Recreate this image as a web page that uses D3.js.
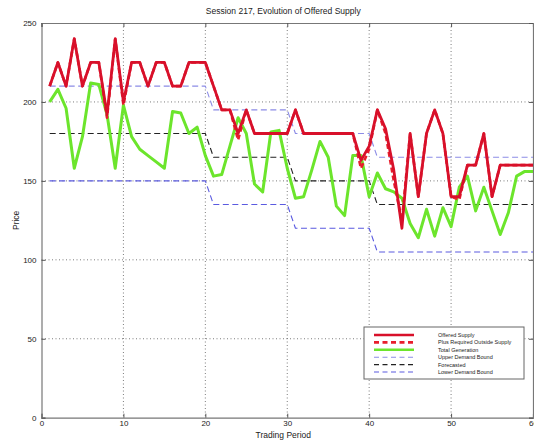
<!DOCTYPE html>
<html>
<head>
<meta charset="utf-8">
<script src="https://cdn.jsdelivr.net/npm/d3@7"></script>
<style>
  body { margin: 0; background: #fff; }
  text { font-family: "Liberation Sans", Arial, sans-serif; fill: #222; }
</style>
</head>
<body>
<svg id="chart" width="534" height="440"></svg>
<script>
// trading periods 1..60
const periods = d3.range(1, 61);

const offeredSupply = [210,225,210,240,210,225,225,192,240,200,
  225,225,210,225,225,210,210,225,225,225,
  210,195,195,180,195,180,180,180,180,180,
  195,180,180,180,180,180,180,180,163,172,
  195,183,157,120,180,140,180,195,180,140,
  140,160,160,180,140,160,160,160,160,160];

const plusOutside = [210,225,210,240,210,225,225,190,240,198,
  225,225,210,225,225,210,210,225,225,225,
  210,195,195,176,195,180,180,180,180,180,
  195,180,180,180,180,180,180,180,158,170,
  195,180,150,125,180,140,180,195,180,140,
  138,160,160,180,140,160,160,160,160,160];

const totalGeneration = [200,208,196,158,178,212,211,192,158,198,
  178,170,166,162,158,194,193,180,184,166,
  153,154,172,190,180,148,143,181,182,158,
  139,140,157,175,165,134,128,166,166,140,
  155,145,143,139,123,114,132,115,133,121,
  146,153,131,146,131,116,130,153,156,156];

// step bounds: vertex periods and levels
const stepPeriods = [1, 20, 21, 30, 31, 40, 41, 60];
const upperBound = [210, 210, 195, 195, 180, 180, 165, 165];
const forecasted = [180, 180, 165, 165, 150, 150, 135, 135];
const lowerBound = [150, 150, 135, 135, 120, 120, 105, 105];

const xTicks = [0, 10, 20, 30, 40, 50, 60];
const yTicks = [0, 50, 100, 150, 200, 250];

const svg = d3.select("#chart");
const pL = 41.5, pR = 533, pT = 23, pB = 417.7;

const x = d3.scaleLinear().domain([0, 60]).range([pL, pR]);
const y = d3.scaleLinear().domain([0, 250]).range([pB, pT]);

// grid
const grid = svg.append("g");
grid.selectAll("line.gx").data(xTicks.slice(1, -1)).enter().append("line")
  .attr("x1", d => x(d)).attr("x2", d => x(d))
  .attr("y1", pT).attr("y2", pB)
  .attr("stroke", "#444").attr("stroke-width", 0.7).attr("stroke-dasharray", "1,2.5");
grid.selectAll("line.gy").data(yTicks.slice(1, -1)).enter().append("line")
  .attr("x1", pL).attr("x2", pR)
  .attr("y1", d => y(d)).attr("y2", d => y(d))
  .attr("stroke", "#444").attr("stroke-width", 0.7).attr("stroke-dasharray", "1,2.5");

// axes
const xAxis = d3.axisBottom(x).tickValues(xTicks).tickSize(-4).tickPadding(3);
const yAxis = d3.axisLeft(y).tickValues(yTicks).tickSize(-4).tickPadding(5);
svg.append("g").attr("transform", `translate(0,${pB})`).call(xAxis);
svg.append("g").attr("transform", `translate(${pL},0)`).call(yAxis);
svg.append("g").attr("transform", `translate(0,${pT})`)
  .call(d3.axisTop(x).tickValues(xTicks).tickSize(-4).tickFormat(""));
svg.append("g").attr("transform", `translate(${pR},0)`)
  .call(d3.axisRight(y).tickValues(yTicks).tickSize(-4).tickFormat(""));
svg.selectAll(".domain").attr("stroke", "#777").attr("stroke-width", 1.2);
svg.selectAll(".tick line").attr("stroke", "#555");
svg.selectAll(".tick text").attr("font-size", 8).attr("fill", "#333")
  .attr("font-family", "Liberation Sans, Arial, sans-serif");

// series
const lineXY = d3.line().x(d => x(d[0])).y(d => y(d[1]));
function drawSeries(px, vals, color, width, dash) {
  svg.append("path")
    .datum(px.map((p, i) => [p, vals[i]]))
    .attr("fill", "none").attr("stroke", color)
    .attr("stroke-width", width)
    .attr("stroke-dasharray", dash || null)
    .attr("stroke-linejoin", "round")
    .attr("d", lineXY);
}

drawSeries(stepPeriods, upperBound, "#8c8ce6", 1.1, "6,3.5");
drawSeries(stepPeriods, forecasted, "#222", 1.1, "6,3.5");
drawSeries(stepPeriods, lowerBound, "#5a5ae0", 1.1, "6,3.5");
drawSeries(periods, totalGeneration, "#6ce52c", 3);
drawSeries(periods, plusOutside, "#e81e2c", 2.6, "5,3");
drawSeries(periods, offeredSupply, "#d8102a", 2.8);

// title and labels
svg.append("text").attr("x", (pL + pR) / 2 - 4).attr("y", 14)
  .attr("text-anchor", "middle").attr("font-size", 8.5).text("Session 217, Evolution of Offered Supply");
svg.append("text").attr("x", (pL + pR) / 2 - 4).attr("y", 438)
  .attr("text-anchor", "middle").attr("font-size", 8.5).text("Trading Period");
svg.append("text").attr("transform", `translate(19,${(pT + pB) / 2}) rotate(-90)`)
  .attr("text-anchor", "middle").attr("font-size", 8.5).text("Price");

// legend
const legendItems = [
  { name: "Offered Supply", color: "#d8102a", width: 2.6, dash: null },
  { name: "Plus Required Outside Supply", color: "#e81e2c", width: 2.6, dash: "5,3.5" },
  { name: "Total Generation", color: "#6ce52c", width: 2.6, dash: null },
  { name: "Upper Demand Bound", color: "#8c8ce6", width: 1.1, dash: "5,3.5" },
  { name: "Forecasted", color: "#222", width: 1.1, dash: "5,3.5" },
  { name: "Lower Demand Bound", color: "#5a5ae0", width: 1.1, dash: "5,3.5" }
];
const lg = svg.append("g").attr("transform", "translate(364,327)");
lg.append("rect").attr("width", 160).attr("height", 52)
  .attr("fill", "#fff").attr("stroke", "#666").attr("stroke-width", 1);
const rows = lg.selectAll("g.row").data(legendItems).enter().append("g")
  .attr("transform", (d, i) => `translate(0,${8 + i * 7.4})`);
rows.append("line").attr("x1", 10).attr("x2", 50)
  .attr("stroke", d => d.color).attr("stroke-width", d => d.width)
  .attr("stroke-dasharray", d => d.dash);
rows.append("text").attr("x", 74).attr("y", 2).attr("font-size", 5.5)
  .attr("fill", "#333").text(d => d.name);
</script>
</body>
</html>
